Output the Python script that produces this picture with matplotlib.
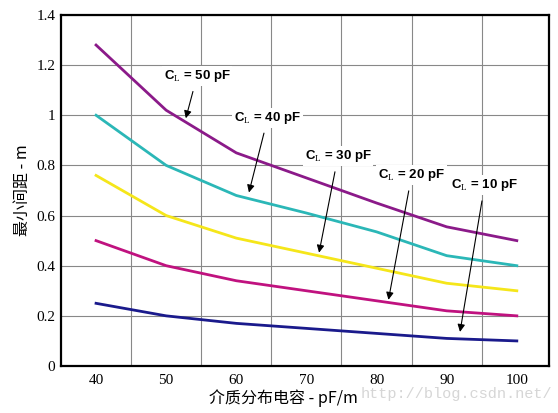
import matplotlib
matplotlib.use("Agg")
import matplotlib.pyplot as plt

plt.rcParams['font.family'] = ['Liberation Serif', 'Noto Sans CJK SC', 'DejaVu Sans']
plt.rcParams['mathtext.fontset'] = 'custom'
plt.rcParams['mathtext.rm'] = 'Liberation Serif'
plt.rcParams['mathtext.bf'] = 'Liberation Sans:bold'

# capacitance per metre (pF/m)
cap = [40, 50, 60, 70, 80, 90, 100]

# minimum spacing (m) for each load capacitance
cl50 = [1.28, 1.02, 0.85, 0.75, 0.65, 0.555, 0.50]
cl40 = [1.00, 0.80, 0.68, 0.61, 0.535, 0.44, 0.40]
cl30 = [0.76, 0.60, 0.51, 0.45, 0.39, 0.33, 0.30]
cl20 = [0.50, 0.40, 0.34, 0.30, 0.26, 0.22, 0.20]
cl10 = [0.25, 0.20, 0.17, 0.15, 0.13, 0.11, 0.10]

series_labels = ['50', '40', '30', '20', '10']
x_ticks = [40, 50, 60, 70, 80, 90, 100]
y_ticks = [0, 0.2, 0.4, 0.6, 0.8, 1.0, 1.2, 1.4]
y_tick_labels = ['0', '0.2', '0.4', '0.6', '0.8', '1', '1.2', '1.4']

colors = ['#8b1a89', '#2bb7b7', '#f5e61a', '#c0127f', '#1a1a8c']

fig = plt.figure(figsize=(5.58, 4.13), dpi=100)
ax = fig.add_axes([0.1093, 0.1138, 0.8747, 0.85])

for ys, c in zip([cl50, cl40, cl30, cl20, cl10], colors):
    ax.plot(cap, ys, color=c, lw=2.0, solid_joinstyle='round')

ax.set_xlim(35, 104.6)
ax.set_ylim(0, 1.4)

# grid lines sit between the labelled values on x
for gx in [45, 55, 65, 75, 85, 95]:
    ax.axvline(gx, color='#888888', lw=0.8, zorder=0)
for gy in y_ticks[1:]:
    ax.axhline(gy, color='#888888', lw=0.8, zorder=0)

ax.set_xticks(x_ticks)
ax.set_xticklabels([str(v) for v in x_ticks], fontsize=11, family='Liberation Serif')
ax.set_yticks(y_ticks)
ax.set_yticklabels(y_tick_labels, fontsize=11, family='Liberation Serif')
ax.tick_params(axis='x', length=0, pad=6)
ax.tick_params(axis='y', length=0, pad=4)

for s in ax.spines.values():
    s.set_linewidth(1.6)
    s.set_color('black')

ax.set_xlabel('介质分布电容 - pF/m', family=['Noto Sans CJK SC', 'DejaVu Sans'],
              fontsize=11.5)
ax.xaxis.set_label_coords(0.455, -0.066)
ax.set_ylabel('最小间距 - m', family=['Noto Sans CJK SC', 'DejaVu Sans'],
              fontsize=11.5)
ax.yaxis.set_label_coords(-0.062, 0.5)

# label positions and arrow tips (data coords)
text_pos = [(54.4, 1.156), (64.5, 0.99), (74.5, 0.836), (85.0, 0.76), (95.4, 0.72)]
arrow_tip = [(52.8, 0.988), (61.8, 0.692), (71.8, 0.452), (81.7, 0.264), (91.9, 0.136)]

for lab, (tx, ty), (ax_, ay) in zip(series_labels, text_pos, arrow_tip):
    ax.annotate(r'$\mathbf{C}_{\mathrm{L}}$ = ' + lab + ' pF', xy=(ax_, ay), xytext=(tx, ty),
                ha='center', va='center', fontsize=9.5, fontweight='bold',
                family=['Liberation Sans', 'DejaVu Sans'],
                bbox=dict(boxstyle='square,pad=0.15', fc='white', ec='none'),
                arrowprops=dict(arrowstyle='-|>', color='black', lw=0.8,
                                mutation_scale=11, shrinkA=4, shrinkB=0))

fig.text(0.818, 0.045, 'http://blog.csdn.net/', color='#d6d6d6', fontsize=11,
         ha='center', va='center', family=['Liberation Mono'])

fig.savefig('out.png', dpi=100)
